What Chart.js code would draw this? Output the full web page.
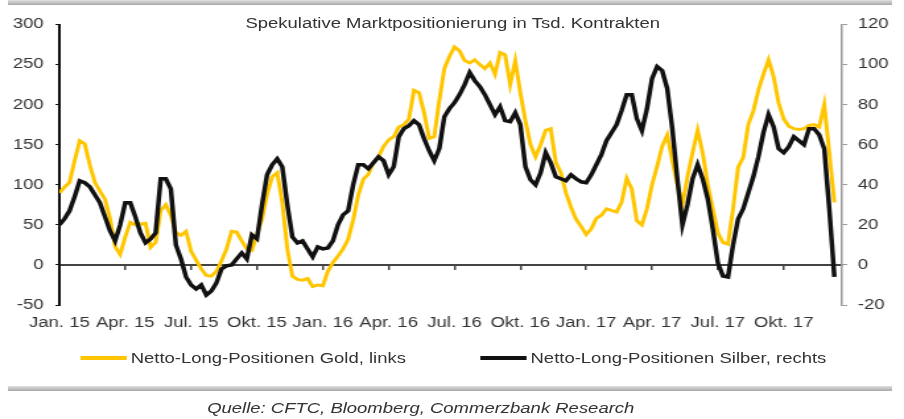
<!DOCTYPE html>
<html>
<head>
<meta charset="utf-8">
<script src="https://cdn.jsdelivr.net/npm/chart.js@4.4.1/dist/chart.umd.min.js"></script>
<style>
  body { margin: 0; background: #fff; font-family: "Liberation Sans", Arial, sans-serif; color: #333; }
  /* the reference is a horizontally stretched picture, so the whole page is drawn narrow and stretched */
  #wrap { position: relative; width: 685px; height: 419px; transform: scaleX(1.3197); transform-origin: 0 0; }
  .bar { position: absolute; left: 6px; width: 670px; height: 5px; background: linear-gradient(#e0e0e0, #a8a8a8); }
  #title { position: absolute; left: 186px; top: 15px; font-size: 14px; line-height: 16px; white-space: nowrap; }
  #chart { position: absolute; left: 0; top: 0; }
  .leg { position: absolute; top: 350px; font-size: 14px; line-height: 16px; white-space: nowrap; }
  .leg span { display: inline-block; width: 35px; height: 4px; vertical-align: middle; margin-right: 3px; position: relative; top: -1px; }
  #source { position: absolute; left: 157px; top: 400px; font-size: 14px; font-style: italic; white-space: nowrap; }
</style>
</head>
<body>
<div id="wrap">
  <div class="bar" style="top:0"></div>
  <canvas id="chart" width="685" height="340"></canvas>
  <div id="title">Spekulative Marktpositionierung in Tsd. Kontrakten</div>
  <div class="leg" style="left:61px"><span style="background:#FFC600"></span>Netto-Long-Positionen Gold, links</div>
  <div class="leg" style="left:364px"><span style="background:#111"></span>Netto-Long-Positionen Silber, rechts</div>
  <div class="bar" style="top:386px"></div>
  <div id="source">Quelle: CFTC, Bloomberg, Commerzbank Research</div>
</div>
<script>
// weekly net long positions, Jan 2015 - Dec 2017 (thousand contracts)
const tickLabels = ["Jan. 15", "Apr. 15", "Jul. 15", "Okt. 15", "Jan. 16", "Apr. 16",
  "Jul. 16", "Okt. 16", "Jan. 17", "Apr. 17", "Jul. 17", "Okt. 17"];

const gold = [
  90, 97, 103, 130, 155, 151, 125, 103, 92, 82, 58, 23, 13, 35, 53, 50, 51, 52, 22, 28,
  68, 75, 62, 40, 37, 42, 17, 6, -5, -13, -14, -8, 5, 20, 42, 41, 30, 20, 18, 38,
  57, 88, 110, 115, 78, 20, -14, -18, -19, -17, -27, -25,
  -26, -8, 3, 11, 20, 32, 56, 87, 107, 113, 128, 135, 148, 156, 160, 172, 175, 182,
  218, 215, 190, 158, 160, 205, 245, 260, 272, 267, 255, 252, 256, 250, 245, 252, 238, 265,
  262, 225, 255, 215, 180, 150, 135, 150, 168, 170, 128, 115, 90, 72, 57,
  48, 38, 45, 58, 62, 70, 68, 66, 78, 108, 95, 55, 50, 70, 100, 123, 148, 162, 130, 100,
  75, 110, 140, 168, 140, 100, 70, 40, 28, 26, 70, 122, 134, 175, 192, 218, 238, 256, 235,
  202, 182, 173, 170, 169, 170, 174, 175, 172, 200, 140, 78
];

const silver = [
  20, 23, 27, 34, 42, 41, 39, 35, 31, 24, 17, 12, 20, 31, 31, 24, 16, 11, 13, 16,
  43, 43, 38, 10, 3, -6, -10, -12, -10, -15, -13, -9, -2, -0.5, 0, 3, 6, 3, 15, 13,
  30, 45, 50, 53, 49, 30, 14, 11, 12, 8, 4, 9,
  8, 8.5, 12, 20, 25, 27, 40, 50, 50, 48, 51, 54, 52, 45, 49, 64, 68, 69.5,
  72, 70, 63, 57, 52, 58, 74, 78, 81, 85, 90, 96, 92, 89, 85, 80, 75, 79,
  72, 71.5, 76, 70, 49, 42.5, 40, 46, 56, 51, 44, 43, 42, 45, 43,
  41.5, 41, 45, 50, 55, 62, 66, 70, 77, 85, 85, 73, 67, 78, 93, 99, 97, 88, 68, 43,
  20, 30, 43, 50, 43, 33, 18, 1, -5.5, -6, 10, 23, 28, 36, 44, 54, 66, 75, 69,
  58, 56, 59, 64, 62, 60, 68, 68, 65, 58, 28, -6
];

const font = { family: "'Liberation Sans', Arial, sans-serif", size: 14 };
const xRange = { type: 'linear', min: 0, max: 154.5 };

new Chart(document.getElementById('chart'), {
  type: 'line',
  data: {
    datasets: [{
      label: 'Netto-Long-Positionen Gold, links',
      data: gold.map((v, i) => ({ x: i, y: v })),
      borderColor: '#FFC600',
      borderWidth: 3,
      yAxisID: 'y',
      order: 1
    }, {
      label: 'Netto-Long-Positionen Silber, rechts',
      data: silver.map((v, i) => ({ x: i, y: v })),
      borderColor: '#111',
      borderWidth: 3.5,
      yAxisID: 'y1',
      order: 0
    }]
  },
  options: {
    responsive: false,
    animation: false,
    layout: { padding: { top: 24.5, left: 0, right: 0, bottom: 0 } },
    elements: { point: { radius: 0 }, line: { tension: 0 } },
    plugins: { legend: { display: false }, tooltip: { enabled: false } },
    scales: {
      x: {
        ...xRange,
        grid: { display: false, drawTicks: false },
        border: { display: false },
        ticks: {
          stepSize: 13, maxTicksLimit: 20, includeBounds: false, autoSkip: false,
          maxRotation: 0, padding: 10, color: '#333', font,
          callback: v => tickLabels[Math.round(v / 13)]
        },
        afterFit: s => { s.height = 35; }
      },
      // zero line with quarter tick marks
      x2: {
        ...xRange,
        position: { y: 0 },
        grid: { drawOnChartArea: false, tickLength: 4, color: '#444', lineWidth: 1.5 },
        border: { color: '#444', width: 2 },
        ticks: { stepSize: 13, maxTicksLimit: 20, includeBounds: false, display: false }
      },
      y: {
        position: 'left',
        min: -50, max: 300,
        grid: { drawOnChartArea: false, tickLength: 3, color: '#111' },
        border: { color: '#111', width: 2 },
        ticks: { stepSize: 50, padding: 9, color: '#333', font },
        afterFit: s => { s.width = 45; }
      },
      y1: {
        position: 'right',
        min: -20, max: 120,
        grid: { drawOnChartArea: false, tickLength: 4, color: '#999' },
        border: { color: '#999', width: 1.5 },
        ticks: { stepSize: 20, padding: 8, color: '#333', font },
        afterFit: s => { s.width = 47; }
      }
    }
  }
});
</script>
</body>
</html>
